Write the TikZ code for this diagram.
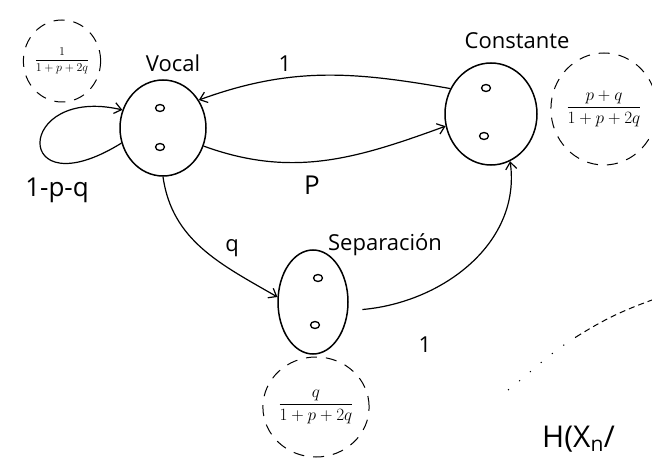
\documentclass[tikz,border=0pt]{standalone}
\usepackage{amsmath}
\usepackage{fontspec}
\setmainfont{Open Sans}
\usetikzlibrary{shapes.geometric,arrows.meta}
\tikzset{
  state/.style={draw,ellipse,line width=1.5pt,inner sep=0pt},
  dotc/.style={draw,ellipse,line width=1.3pt,minimum width=9pt,minimum height=7pt,inner sep=0pt},
  edge/.style={line width=1.2pt,-{Straight Barb[length=7pt,width=11pt,line width=1.2pt]}},
  lab/.style={font=\fontsize{22}{24}\selectfont,inner sep=0pt},
  elab/.style={font=\fontsize{22}{24}\selectfont,inner sep=0pt},
  fracbox/.style={draw,ellipse,line width=1pt,dash pattern=on 11pt off 9pt,inner sep=0pt}
}
\begin{document}
\begin{tikzpicture}[x=1pt,y=1pt]
\useasboundingbox (0,0) rectangle (652,461);
\clip (0,0) rectangle (652,461);
% states
\node[state,minimum width=86pt,minimum height=96pt] (voc) at (163,333) {};
\node[state,minimum width=92pt,minimum height=102pt] (con) at (491,347) {};
\node[state,minimum width=70pt,minimum height=104pt] (sep) at (313,159) {};
% inner dots
\node[dotc] (v1) at (160,353) {};
\node[dotc] (v2) at (160,314) {};
\node[dotc] (c1) at (486,373) {};
\node[dotc] (c2) at (484,325) {};
\node[dotc] (s1) at (318,183) {};
\node[dotc] (s2) at (315,136) {};
% state names
\node[lab] (tv) at (173,398) {Vocal};
\node[lab] (tc) at (517,420) {Constante};
\node[lab] (ts) at (385,216) {Separación};
% fractions
\node[fracbox,minimum width=70pt,minimum height=82pt,font=\fontsize{13}{15}\selectfont] (fv) at (62,400) {$\dfrac{1}{1+p+2q}$};
\node[fracbox,minimum width=92pt,minimum height=112pt,font=\fontsize{18}{20}\selectfont] (fc) at (604,352) {$\dfrac{p+q}{1+p+2q}$};
\node[fracbox,minimum width=90pt,minimum height=100pt,font=\fontsize{18}{20}\selectfont] (fs) at (316,54) {$\dfrac{q}{1+p+2q}$};
% edges
\draw[edge] (con.148) to[out=170,in=20] (voc.38);
\draw[edge] (voc.-24) to[out=-20,in=200] (con.195);
\draw[edge] (voc.-90) to[out=-82,in=150] (sep.172);
\draw[edge] ([xshift=14pt]sep.-12) to[out=5,in=-82] (con.-68);
\draw[edge] (voc.200) .. controls +(-110,-68) and +(-108,25) .. (voc.156);
% edge labels
\node[elab] (l1) at (285,397) {1};
\node[elab,font=\fontsize{26}{28}\selectfont] (lp) at (312,276) {P};
\node[elab] (lq) at (232,213) {q};
\node[elab] (l4) at (425,116) {1};
\node[elab,font=\fontsize{26}{28}\selectfont] (ll) at (57,271) {1-p-q};
% partial dotted curve and cut text
\coordinate (d0) at (508,71);
\coordinate (d1) at (576,124);
\coordinate (d2) at (652,161);
\draw[line width=1pt,dash pattern=on 1.2pt off 13pt] (d0) to[out=38,in=212] (d1);
\draw[line width=1pt,dash pattern=on 6pt off 4pt] (d1) to[out=32,in=200] (d2);
\node[font=\fontsize{30}{32}\selectfont,anchor=west,inner sep=0pt] (hx) at (542,22) {H(X\textsubscript{n}/};
\end{tikzpicture}
\end{document}
